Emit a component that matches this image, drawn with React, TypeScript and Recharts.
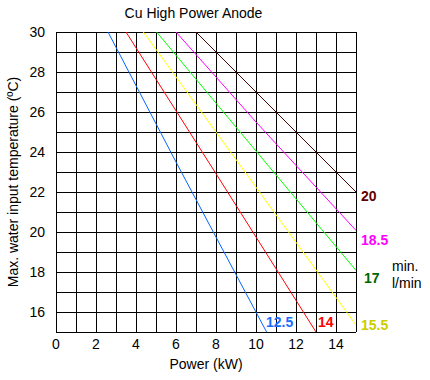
import { CartesianGrid, Line, LineChart, XAxis, YAxis } from "recharts"

// cooling water flow (l/min) curves: power (kW) vs max input temperature (ºC)
const power125 = [2.6, 6.0, 10.53]
const temp125 = [30, 23.5, 15]
const power14 = [3.5, 8.2, 13.0]
const temp14 = [30, 22.6, 15]
const power155 = [4.37, 8.0, 15.0]
const temp155 = [30, 25.0, 15.35]
const power17 = [5.03, 10.0, 15.0]
const temp17 = [30, 24.05, 18.08]
const power185 = [6.0, 10.0, 15.0]
const temp185 = [30, 25.5, 20.08]
const power20 = [7.0, 11.0, 15.0]
const temp20 = [30, 26.0, 22.0]

const xTicks = [0, 1, 2, 3, 4, 5, 6, 7, 8, 9, 10, 11, 12, 13, 14, 15]
const yTicks = [15, 16, 17, 18, 19, 20, 21, 22, 23, 24, 25, 26, 27, 28, 29, 30]

const toPoints = (p: number[], t: number[]) => p.map((x, i) => ({ p: x, t: t[i] }))

const series = [
  { name: "12.5", data: toPoints(power125, temp125), color: "#0066ff" },
  { name: "14", data: toPoints(power14, temp14), color: "#ff0000" },
  { name: "15.5", data: toPoints(power155, temp155), color: "#ffff00" },
  { name: "17", data: toPoints(power17, temp17), color: "#00ff00" },
  { name: "18.5", data: toPoints(power185, temp185), color: "#ff00ff" },
  { name: "20", data: toPoints(power20, temp20), color: "#4d0000" },
]

const font = "'Liberation Sans', Arial, sans-serif"
const evenOnly = (v: number) => (v % 2 === 0 ? String(v) : "")

export default function App() {
  return (
    <div style={{ position: "absolute", left: 0, top: 0, width: 430, height: 380, background: "#fff" }}>
      <LineChart width={430} height={380} margin={{ top: 32, right: 74, bottom: 0, left: 0 }} style={{ fontFamily: font }}>
        <CartesianGrid stroke="#000" strokeWidth={1} strokeOpacity={1} shapeRendering="crispEdges" />
        <XAxis
          type="number"
          dataKey="p"
          domain={[0, 15]}
          ticks={xTicks}
          tickFormatter={evenOnly}
          interval={0}
          allowDataOverflow
          axisLine={false}
          tickLine={false}
          tickSize={0}
          tickMargin={7}
          height={48}
          tick={{ fill: "#000", fontSize: 14 }}
        />
        <YAxis
          type="number"
          dataKey="t"
          domain={[15, 30]}
          ticks={yTicks}
          tickFormatter={evenOnly}
          interval={0}
          allowDataOverflow
          axisLine={false}
          tickLine={false}
          tickSize={0}
          tickMargin={11}
          width={56}
          tick={{ fill: "#000", fontSize: 14 }}
        />
        {series.map((s) => (
          <Line
            key={s.name}
            data={s.data}
            dataKey="t"
            stroke={s.color}
            strokeWidth={1}
            dot={false}
            activeDot={false}
            isAnimationActive={false}
          />
        ))}
        <text x={193.5} y={18} textAnchor="middle" fontSize={14} fill="#000">Cu High Power Anode</text>
        <text x={206} y={369} textAnchor="middle" fontSize={14} fill="#000">Power (kW)</text>
        <text x={18} y={182} textAnchor="middle" fontSize={14} fill="#000" transform="rotate(-90 18 182)">
          Max. water input temperature (ºC)
        </text>
        <text x={266} y={327} fontSize={14} fontWeight="bold" fill="#1a6cff">12.5</text>
        <text x={318} y={327} fontSize={14} fontWeight="bold" fill="#ff0000">14</text>
        <text x={361} y={201} fontSize={14} fontWeight="bold" fill="#660000">20</text>
        <text x={361} y={245} fontSize={14} fontWeight="bold" fill="#ff00ff">18.5</text>
        <text x={364} y={283} fontSize={14} fontWeight="bold" fill="#006600">17</text>
        <text x={361} y={330} fontSize={14} fontWeight="bold" fill="#cccc00">15.5</text>
        <text x={392} y={271} fontSize={14} fill="#000">min.</text>
        <text x={392} y={288} fontSize={14} fill="#000">l/min</text>
      </LineChart>
    </div>
  )
}
